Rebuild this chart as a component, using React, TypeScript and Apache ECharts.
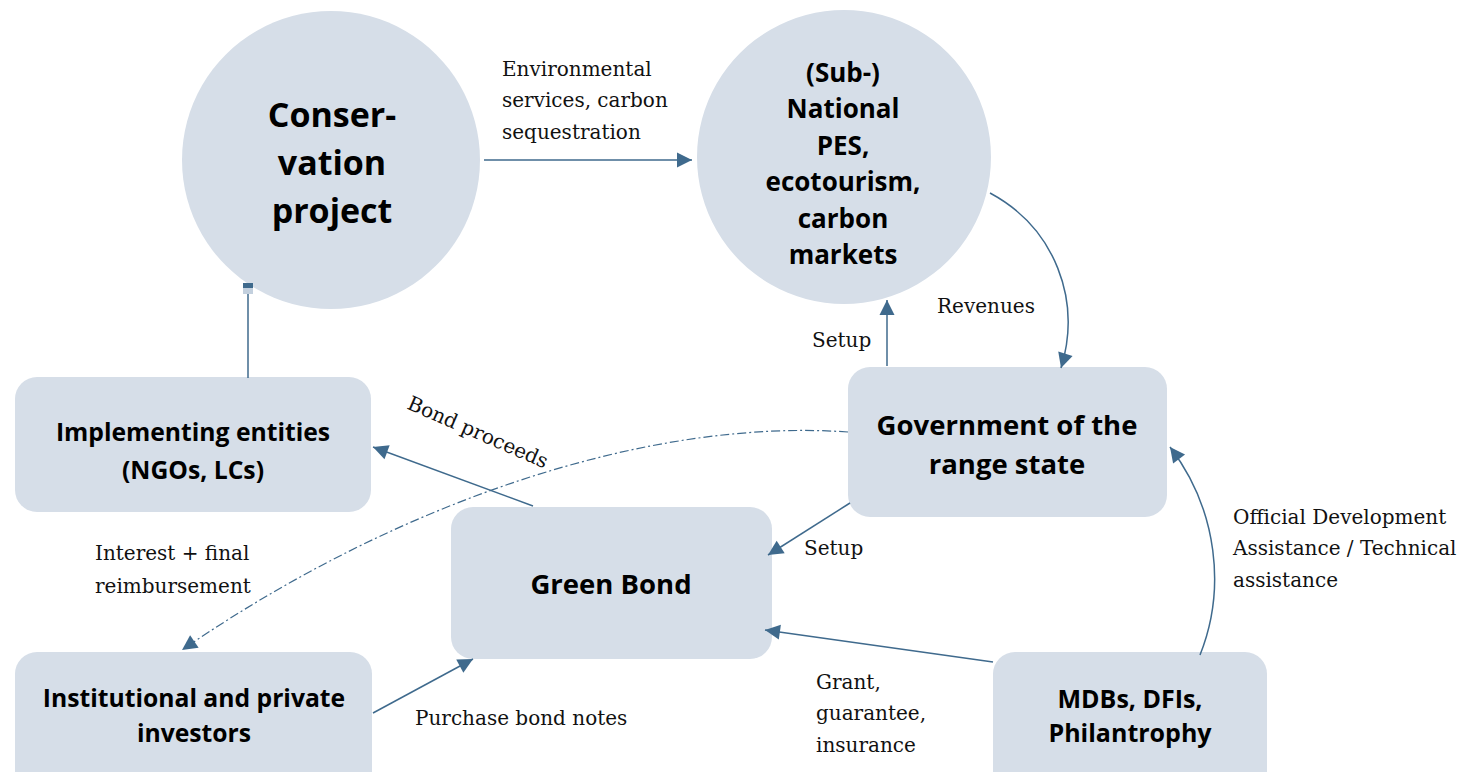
import React, { useEffect, useRef } from "react";
import * as echarts from "echarts";

// ---- content ----
const conservationLines = ["Conser-", "vation", "project"];
const marketLines = ["(Sub-)", "National", "PES,", "ecotourism,", "carbon", "markets"];
const boxNames = [
  "Implementing entities\n(NGOs, LCs)",
  "Government of the\nrange state",
  "Green Bond",
  "Institutional and private\ninvestors",
  "MDBs, DFIs,\nPhilantrophy",
];
const envLabel = ["Environmental", "services, carbon", "sequestration"];
const revenueLabel = ["Revenues"];
const setupLabel = ["Setup"];
const bondProceedsLabel = ["Bond proceeds"];
const interestLabel = ["Interest + final", "reimbursement"];
const odaLabel = ["Official Development", "Assistance / Technical", "assistance"];
const grantLabel = ["Grant,", "guarantee,", "insurance"];
const purchaseLabel = ["Purchase bond notes"];

const FILL = "#d6dee8";
const ARROW = "#3f6a8d";
const SANS = "'Open Sans', 'Noto Sans', sans-serif";
const SERIF = "'DejaVu Serif', serif";

function head(tx: number, ty: number, fx: number, fy: number, len = 15, half = 7.5) {
  const dx = tx - fx;
  const dy = ty - fy;
  const d = Math.sqrt(dx * dx + dy * dy) || 1;
  const ux = dx / d;
  const uy = dy / d;
  const bx = tx - ux * len;
  const by = ty - uy * len;
  return {
    type: "polygon",
    z: 10,
    shape: {
      points: [
        [tx, ty],
        [bx - uy * half, by + ux * half],
        [bx + uy * half, by - ux * half],
      ],
    },
    style: { fill: ARROW },
  };
}

function straight(x1: number, y1: number, x2: number, y2: number, withHead = true) {
  const els: any[] = [
    {
      type: "line",
      z: 9,
      shape: { x1, y1, x2, y2 },
      style: { stroke: ARROW, lineWidth: 1.5 },
    },
  ];
  if (withHead) els.push(head(x2, y2, x1, y1));
  return els;
}

function curve(p: number[], dash?: number[], withHead = true) {
  const [x1, y1, c1x, c1y, c2x, c2y, x2, y2] = p;
  const els: any[] = [
    {
      type: "bezierCurve",
      z: 9,
      shape: { x1, y1, cpx1: c1x, cpy1: c1y, cpx2: c2x, cpy2: c2y, x2, y2 },
      style: { stroke: ARROW, lineWidth: dash ? 1.2 : 1.5, fill: null, lineDash: dash },
    },
  ];
  if (withHead) els.push(head(x2, y2, c2x, c2y));
  return els;
}

function serifText(lines: string[], x: number, y: number, lh = 31.5, rotation = 0) {
  return {
    type: "text",
    z: 12,
    x,
    y,
    rotation,
    style: {
      text: lines.join("\n"),
      fontFamily: SERIF,
      fontSize: 20,
      fill: "#111",
      align: rotation ? "center" : "left",
      verticalAlign: rotation ? "middle" : "top",
      lineHeight: lh,
    },
  };
}

function boldText(text: string, x: number, y: number, size: number, lh: number) {
  return {
    type: "text",
    z: 12,
    x,
    y,
    style: {
      text,
      fontFamily: SANS,
      fontWeight: "bold",
      fontSize: size,
      fill: "#000",
      align: "center",
      verticalAlign: "middle",
      lineHeight: lh,
    },
  };
}

export default function App() {
  const ref = useRef<HTMLDivElement>(null);
  useEffect(() => {
    document.body.style.margin = "0";
    if (!ref.current) return;
    const chart = echarts.init(ref.current, undefined, { renderer: "svg" });

    const boxes = [
      { x: 15, y: 377, w: 356, h: 135 },
      { x: 848, y: 367, w: 319, h: 150 },
      { x: 451, y: 507, w: 321, h: 152 },
      { x: 15, y: 652, w: 357, h: 150 },
      { x: 993, y: 652, w: 274, h: 150 },
    ];
    const textStyle = [
      [193, 450, 38, 24.7],
      [1007, 444, 39, 27.5],
      [611, 583, 36, 27.5],
      [194, 715, 35, 24.7],
      [1130, 715, 34, 25],
    ];

    const graphic: any[] = [];
    graphic.push({ type: "circle", z: 1, shape: { cx: 331, cy: 160, r: 149 }, style: { fill: FILL } });
    graphic.push({ type: "circle", z: 1, shape: { cx: 844, cy: 157, r: 147 }, style: { fill: FILL } });
    boxes.forEach((b) =>
      graphic.push({
        type: "rect",
        z: 1,
        shape: { x: b.x, y: b.y, width: b.w, height: b.h, r: 22 },
        style: { fill: FILL },
      })
    );
    graphic.push(boldText(conservationLines.join("\n"), 332, 162, 34, 48));
    graphic.push(boldText(marketLines.join("\n"), 843, 163, 26, 36.5));
    boxNames.forEach((n, i) => {
      const [cx, cy, lh, fs] = textStyle[i];
      graphic.push(boldText(n, cx, cy, fs, lh));
    });

    // connectors
    graphic.push(...straight(484, 160, 692, 160));
    graphic.push(...curve([990, 193, 1055, 228, 1082, 300, 1061, 368]));
    graphic.push(...straight(887, 366, 887, 300));
    graphic.push(...straight(248, 292, 248, 378, false));
    graphic.push({ type: "rect", z: 9, shape: { x: 243, y: 283, width: 10, height: 5 }, style: { fill: ARROW } });
    graphic.push({ type: "rect", z: 9, shape: { x: 243, y: 288, width: 10, height: 6 }, style: { fill: "#c3d0de" } });
    graphic.push(...straight(533, 506, 373, 447));
    graphic.push(...curve([848, 432, 650, 418, 400, 500, 182, 650], [9, 3, 2, 3]));
    graphic.push(...straight(850, 503, 768, 555));
    graphic.push(...straight(373, 713, 473, 659));
    graphic.push(...straight(993, 662, 765, 630));
    graphic.push(...curve([1200, 655, 1226, 590, 1218, 510, 1170, 447]));

    // flow labels
    graphic.push(serifText(envLabel, 502, 53));
    graphic.push(serifText(revenueLabel, 937, 290));
    graphic.push(serifText(setupLabel, 812, 324));
    graphic.push(serifText(bondProceedsLabel, 478, 432, 31.5, -0.41));
    graphic.push(serifText(interestLabel, 95, 536, 33));
    graphic.push(serifText(setupLabel, 804, 532));
    graphic.push(serifText(odaLabel, 1233, 501));
    graphic.push(serifText(grantLabel, 816, 666));
    graphic.push(serifText(purchaseLabel, 415, 702));

    chart.setOption({ animation: false, graphic });
    return () => chart.dispose();
  }, []);
  return <div ref={ref} style={{ width: 1475, height: 772, background: "#fff" }} />;
}
